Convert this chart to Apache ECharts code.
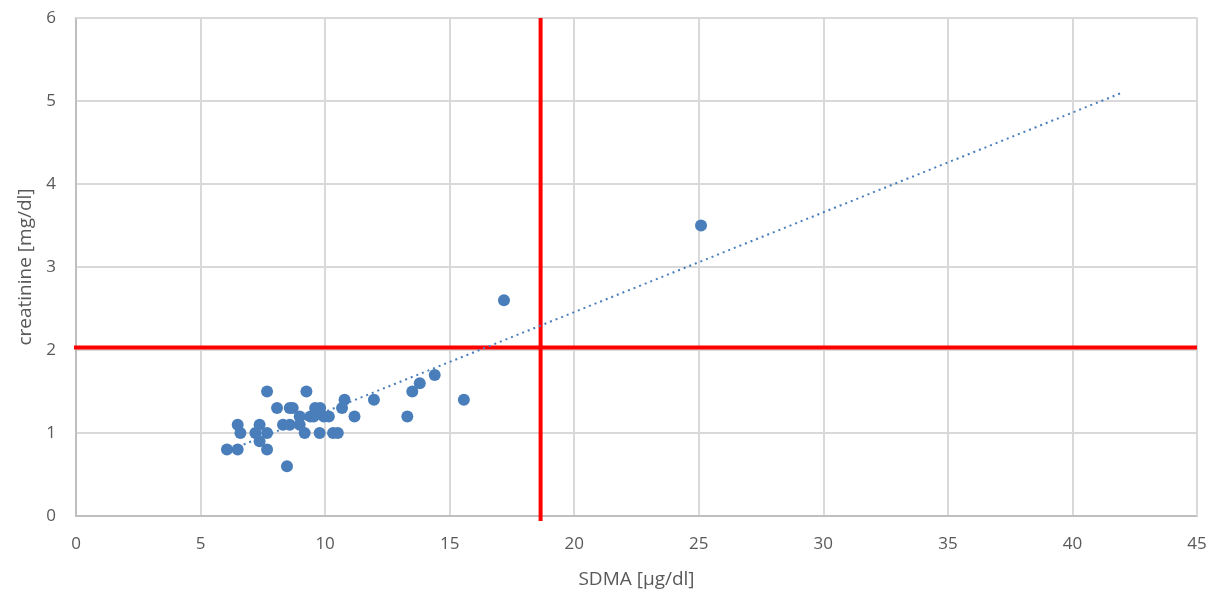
<!DOCTYPE html>
<html><head><meta charset="utf-8">
<script src="https://cdn.jsdelivr.net/npm/echarts@6/dist/echarts.min.js"></script>
<style>html,body{margin:0;padding:0;background:#fff}#c{width:1221px;height:599px}</style>
</head><body><div id="c"></div>
<script>
const sdma = [7.67, 9.25, 10.78, 11.96, 8.07, 8.58, 8.7, 9.6, 9.8, 10.68, 8.98, 9.41, 9.54, 9.95, 10.15, 11.18, 6.49, 7.37, 8.31, 8.58, 8.98, 6.6, 7.2, 7.67, 7.37, 9.18, 9.78, 10.32, 10.51, 6.06, 6.49, 7.67, 8.47, 13.3, 13.5, 13.8, 14.4, 15.57, 17.18, 25.09];
const creatinine = [1.5, 1.5, 1.4, 1.4, 1.3, 1.3, 1.3, 1.3, 1.3, 1.3, 1.2, 1.2, 1.2, 1.2, 1.2, 1.2, 1.1, 1.1, 1.1, 1.1, 1.1, 1.0, 1.0, 1.0, 0.9, 1.0, 1.0, 1.0, 1.0, 0.8, 0.8, 0.8, 0.6, 1.2, 1.5, 1.6, 1.7, 1.4, 2.6, 3.5];
const trendXRange = [6.06, 42];
const cutoffSDMA = 18.65;
const cutoffCreatinine = 2.03;
const xTicks = [0, 5, 10, 15, 20, 25, 30, 35, 40, 45];
const yTicks = [0, 1, 2, 3, 4, 5, 6];

const points = sdma.map((x, i) => [x, creatinine[i]]);
// least squares trendline
const n = sdma.length;
const mx = sdma.reduce((a, b) => a + b, 0) / n;
const my = creatinine.reduce((a, b) => a + b, 0) / n;
let sxy = 0, sxx = 0;
for (let i = 0; i < n; i++) { sxy += (sdma[i] - mx) * (creatinine[i] - my); sxx += (sdma[i] - mx) ** 2; }
const slope = sxy / sxx, icpt = my - slope * mx;
const trend = trendXRange.map(x => [x, icpt + slope * x]);

const chart = echarts.init(document.getElementById('c'));
const font = "'Open Sans', 'Liberation Sans', sans-serif";
chart.setOption({
  animation: false,
  grid: { left: 76, right: 24, top: 18, bottom: 83 },
  xAxis: {
    type: 'value', min: xTicks[0], max: xTicks[xTicks.length - 1], interval: 5,
    name: 'SDMA [µg/dl]', nameLocation: 'middle', nameGap: 54,
    nameTextStyle: { color: '#595959', fontSize: 19, fontFamily: font },
    axisLine: { show: true, lineStyle: { color: '#bfbfbf', width: 2 } },
    axisTick: { show: false },
    axisLabel: { color: '#595959', fontSize: 17, fontFamily: font, margin: 20 },
    splitLine: { show: true, lineStyle: { color: '#d9d9d9', width: 2 } }
  },
  yAxis: {
    type: 'value', min: yTicks[0], max: yTicks[yTicks.length - 1], interval: 1,
    name: 'creatinine [mg/dl]', nameLocation: 'middle', nameGap: 36, nameRotate: 90,
    nameTextStyle: { color: '#595959', fontSize: 19, fontFamily: font },
    axisLine: { show: true, lineStyle: { color: '#bfbfbf', width: 2 } },
    axisTick: { show: false },
    axisLabel: { color: '#595959', fontSize: 17, fontFamily: font, margin: 20 },
    splitLine: { show: true, lineStyle: { color: '#d9d9d9', width: 2 } }
  },
  series: [
    { type: 'line', data: [[45, 0], [45, 6], [0, 6]], symbol: 'none', silent: true,
      lineStyle: { color: '#d9d9d9', width: 2 }, z: 1 },
    { type: 'line', data: [[-0.25, cutoffCreatinine], [45, cutoffCreatinine]], symbol: 'none', clip: false,
      lineStyle: { color: '#ff0000', width: 4 }, z: 3 },
    { type: 'line', data: [[cutoffSDMA, 6], [cutoffSDMA, -0.06]], symbol: 'none', clip: false,
      lineStyle: { color: '#ff0000', width: 4 }, z: 3 },
    { type: 'scatter', data: points, symbol: 'circle', symbolSize: 12,
      itemStyle: { color: '#4a7ebb', opacity: 1 }, z: 4 },
    { type: 'line', data: trend, symbol: 'none',
      lineStyle: { color: '#4a7ebb', width: 2, type: [2, 4] }, z: 5 }
  ]
});
</script></body></html>
